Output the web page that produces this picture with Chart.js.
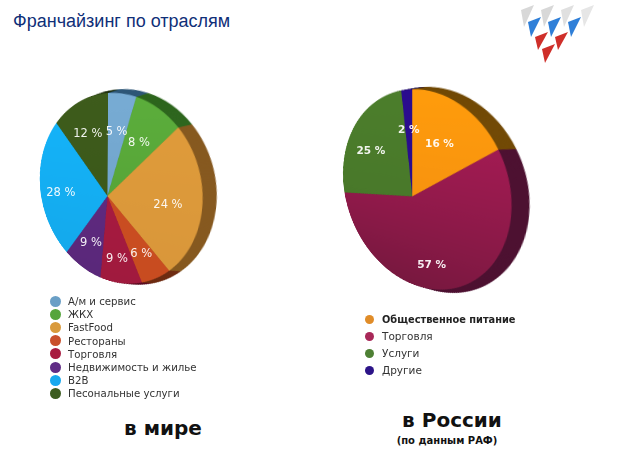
<!DOCTYPE html>
<html lang="ru">
<head>
<meta charset="utf-8">
<title>Франчайзинг по отраслям</title>
<script src="https://cdn.jsdelivr.net/npm/chart.js@4"></script>
<style>
  html, body { margin: 0; padding: 0; background: #fff; overflow: hidden; }
  #page { position: relative; width: 628px; height: 462px; overflow: hidden; font-family: "DejaVu Sans", sans-serif; }
  #page canvas { position: absolute; left: 0; top: 0; transform-origin: 0 0; filter: blur(0.4px); }
  .title { position: absolute; left: 13px; top: 11px; font: 18px "Liberation Sans", sans-serif; color: #0f2f78; white-space: nowrap; }
  .pct { position: absolute; transform: translate(-50%, -50%); color: #fff; white-space: nowrap; opacity: 0.92; }
  .legend { position: absolute; color: #333; white-space: nowrap; }
  .legend i { position: absolute; border-radius: 50%; }
  .legend span { position: absolute; transform: translateY(-50%); }
  .caption { position: absolute; transform: translateX(-50%); font-weight: bold; color: #111; white-space: nowrap; }
  svg { position: absolute; left: 0; top: 0; }
</style>
</head>
<body>
<div id="page">
  <div class="title">Франчайзинг по отраслям</div>
  <canvas id="worldChart" width="320" height="320" style="width:320px;height:320px"></canvas>
  <canvas id="russiaChart" width="320" height="320" style="width:320px;height:320px"></canvas>
  <div class="caption" style="left:163px;top:416px;font-size:20px">в мире</div>
  <div class="caption" style="left:452px;top:408px;font-size:20px">в России</div>
  <div class="caption" style="left:447px;top:435px;font-size:10px">(по данным РАФ)</div>
</div>
<script>
// --- data ---
const worldLabels = ['А/м и сервис', 'ЖКХ', 'FastFood', 'Рестораны', 'Торговля', 'Недвижимость и жилье', 'B2B', 'Песональные услуги'];
const worldValues = [5, 8, 24, 6, 9, 9, 28, 12];
const russiaLabels = ['Общественное питание', 'Торговля', 'Услуги', 'Другие'];
const russiaValues = [16, 57, 25, 2];

// --- colours ---
const worldColors = ['#78acd4', '#5cae3c', '#e09c3a', '#cc5024', '#ae1c42', '#632c84', '#14b4fa', '#3e5c1c'];
const worldShades = ['#6a9ec6', '#529c34', '#d8963a', '#c84c20', '#a01a3e', '#5a287a', '#14a8ea', '#3a5618'];
const worldSides = ['#2f5878', '#2e661e', '#875a20', '#6e2c12', '#5a0e22', '#331645', '#0a6090', '#223210'];
const worldLegend = ['#6a9fc6', '#55a53c', '#d99a3c', '#c9502c', '#a81c40', '#602c86', '#18a8ee', '#3c5c20'];
const russiaColors = ['#ff9c0c', '#ae1c58', '#4c7e2c', '#2a0c8e'];
const russiaShades = ['#f08a12', '#78183f', '#467428', '#2a0c8e'];
const russiaSides = ['#724a06', '#4e1232', '#28421a', '#160648'];
const russiaLegend = ['#e08c28', '#a82858', '#4e8034', '#2c1488'];

// --- layout (pixels on the page) ---
const CANVAS = 320, PAD = 40, R = CANVAS / 2 - PAD;
const worldCorners = [[108, 93], [202, 210], [107, 280], [40, 186]];
const russiaCorners = [[412.3, 89.3], [511, 217], [412.3, 284], [343.3, 182]];
const worldLabelRadius = [0.66, 0.66, 0.68, 0.7, 0.7, 0.62, 0.66, 0.68];
const russiaLabelRadius = [0.62, 0.72, 0.68, 0.65];

// four point perspective, circle top/right/bottom/left -> picture
const solveHomography = (dst) => {
  const c = CANVAS / 2;
  const src = [[c, c - R], [c + R, c], [c, c + R], [c - R, c]];
  const m = [];
  src.forEach(([x, y], i) => {
    const [u, v] = dst[i];
    m.push([x, y, 1, 0, 0, 0, -x * u, -y * u, u]);
    m.push([0, 0, 0, x, y, 1, -x * v, -y * v, v]);
  });
  for (let i = 0; i < 8; i++) {
    let p = i;
    for (let r = i + 1; r < 8; r++) if (Math.abs(m[r][i]) > Math.abs(m[p][i])) p = r;
    [m[i], m[p]] = [m[p], m[i]];
    for (let r = 0; r < 8; r++) {
      if (r === i) continue;
      const f = m[r][i] / m[i][i];
      for (let k = i; k < 9; k++) m[r][k] -= f * m[i][k];
    }
  }
  return m.map((row, i) => row[8] / row[i]);
};

// the dark side of the disc, swept behind the slices
const extrudePlugin = {
  id: 'extrude',
  beforeDatasetsDraw(chart, args, opts) {
    const ctx = chart.ctx;
    const arcs = chart.getDatasetMeta(0).data;
    for (let s = opts.steps; s >= 1; s--) {
      const ox = opts.dx * s / opts.steps, oy = opts.dy * s / opts.steps;
      arcs.forEach((arc, i) => {
        ctx.fillStyle = opts.colors[i];
        ctx.beginPath();
        ctx.moveTo(arc.x + ox, arc.y + oy);
        ctx.arc(arc.x + ox, arc.y + oy, arc.outerRadius, arc.startAngle, arc.endAngle);
        ctx.closePath();
        ctx.fill();
      });
    }
  }
};

const drawPie = (id, labels, values, colors, shades, sides, corners, radii, labelFont, dx, dy) => {
  const H = solveHomography(corners);
  const canvas = document.getElementById(id);
  canvas.style.transform = `matrix3d(${H[0]},${H[3]},0,${H[6]},${H[1]},${H[4]},0,${H[7]},0,0,1,0,${H[2]},${H[5]},0,1)`;

  const chart = new Chart(canvas, {
    type: 'pie',
    data: {
      labels,
      datasets: [{
        data: values,
        backgroundColor: (c) => {
          const g = c.chart.ctx.createLinearGradient(0, PAD, 0, CANVAS - PAD);
          g.addColorStop(0, colors[c.dataIndex]);
          g.addColorStop(1, shades[c.dataIndex]);
          return g;
        },
        borderWidth: 0
      }]
    },
    plugins: [extrudePlugin],
    options: {
      responsive: false,
      animation: false,
      devicePixelRatio: 2,
      layout: { padding: PAD },
      plugins: {
        legend: { display: false },
        tooltip: { enabled: false },
        extrude: { colors: sides, dx, dy, steps: 30 }
      }
    }
  });

  // labels stay flat, so project the slice middles onto the page
  chart.getDatasetMeta(0).data.forEach((arc, i) => {
    const mid = (arc.startAngle + arc.endAngle) / 2;
    const x = arc.x + Math.cos(mid) * arc.outerRadius * radii[i];
    const y = arc.y + Math.sin(mid) * arc.outerRadius * radii[i];
    const w = H[6] * x + H[7] * y + 1;
    const el = document.createElement('div');
    el.className = 'pct';
    el.style.left = (H[0] * x + H[1] * y + H[2]) / w + 'px';
    el.style.top = (H[3] * x + H[4] * y + H[5]) / w + 'px';
    el.style.font = labelFont;
    el.textContent = values[i] + ' %';
    document.getElementById('page').appendChild(el);
  });
};

const drawLegend = (labels, colors, left, top, step, gap, size, dot) => {
  const box = document.createElement('div');
  box.className = 'legend';
  box.style.left = left + 'px';
  box.style.top = top + 'px';
  labels.forEach((label, i) => {
    const mark = document.createElement('i');
    mark.style.width = mark.style.height = dot + 'px';
    mark.style.left = (-dot / 2) + 'px';
    mark.style.top = (i * step - dot / 2) + 'px';
    mark.style.background = colors[i];
    const text = document.createElement('span');
    text.style.left = gap + 'px';
    text.style.top = (i * step) + 'px';
    text.style.fontSize = size + 'px';
    text.textContent = label;
    box.append(mark, text);
  });
  document.getElementById('page').appendChild(box);
  return box;
};

// logo: rows of small wedges
const drawLogo = () => {
  const wedges = [
    [527, 8, '#d8d8d8', 19], [547, 8, '#d8d8d8', 19], [567, 8, '#e0e0e0', 19], [587, 8, '#e6e6e6', 19],
    [534, 20, '#2f7fd8', 17], [554, 20, '#2f7fd8', 17], [574, 20, '#2f7fd8', 17],
    [541, 35, '#cf2f2a', 15], [561, 35, '#cf2f2a', 15],
    [548, 47, '#cf2f2a', 16]
  ];
  const ns = 'http://www.w3.org/2000/svg';
  const svg = document.createElementNS(ns, 'svg');
  svg.setAttribute('width', 628);
  svg.setAttribute('height', 462);
  wedges.forEach(([x, y, fill, h]) => {
    const p = document.createElementNS(ns, 'polygon');
    p.setAttribute('points', `${x - 6},${y + 2} ${x + 7},${y - 3} ${x - 3},${y + h}`);
    p.setAttribute('fill', fill);
    svg.appendChild(p);
  });
  document.getElementById('page').appendChild(svg);
};

drawPie('worldChart', worldLabels, worldValues, worldColors, worldShades, worldSides, worldCorners, worldLabelRadius, '11.5px "DejaVu Sans"', 14, -3);
drawPie('russiaChart', russiaLabels, russiaValues, russiaColors, russiaShades, russiaSides, russiaCorners, russiaLabelRadius, 'bold 10.5px "DejaVu Sans"', 17, -2);
drawLegend(worldLabels, worldLegend, 55, 301, 13.2, 13, 10.2, 11);
const rl = drawLegend(russiaLabels, russiaLegend, 369, 319, 17, 13, 10.5, 9);
rl.querySelector('span').style.fontWeight = 'bold';
rl.querySelector('span').style.fontSize = '9.8px';
rl.querySelector('span').style.color = '#222';
drawLogo();
</script>
</body>
</html>
